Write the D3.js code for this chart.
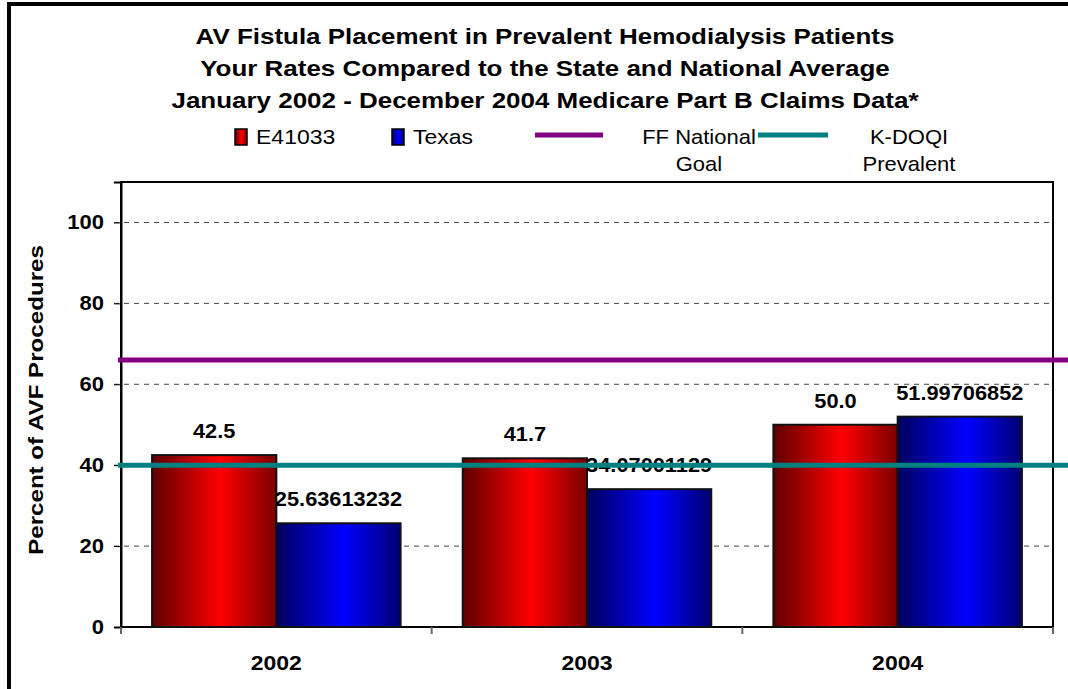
<!DOCTYPE html>
<html>
<head>
<meta charset="utf-8">
<script src="https://cdn.jsdelivr.net/npm/d3@7"></script>
<style>
  body { margin: 0; background: #fff; }
  svg { display: block; font-family: "Liberation Sans", Arial, sans-serif; }
</style>
</head>
<body>
<svg id="chart" width="1068" height="689"></svg>
<script>
const years = ["2002", "2003", "2004"];
const seriesNames = ["E41033", "Texas"];
const e41033 = [42.5, 41.7, 50.0];
const texas = [25.63613232, 34.07001129, 51.99706852];
const ffGoal = 66;
const kdoqiPrevalent = 40;
const yTicks = [0, 20, 40, 60, 80, 100];
const titleLines = [
  "AV Fistula Placement in Prevalent Hemodialysis Patients",
  "Your Rates Compared to the State and National Average",
  "January 2002 - December 2004 Medicare Part B Claims Data*"
];

const svg = d3.select("#chart");
const width = +svg.attr("width");

const plotL = 121, plotR = 1053, plotT = 182, plotB = 627;

const x = d3.scaleBand().domain(years).range([plotL, plotR]).padding(0);
const xSub = d3.scaleBand().domain(seriesNames).range([0, x.bandwidth()]).paddingInner(0).paddingOuter(0.25);
const y = d3.scaleLinear().domain([0, 110]).range([plotB, plotT]);

// the original's text is set wider than Liberation Sans, so stretch it a bit
function stretch(sel, sx) {
  sel.each(function () {
    const t = d3.select(this);
    const tx = +t.attr("x") || 0, ty = +t.attr("y") || 0;
    t.attr("x", 0).attr("y", 0)
      .attr("transform", `translate(${tx},${ty}) scale(${sx},1)`);
  });
}

// gradients
const defs = svg.append("defs");
function grad(id, dark1, bright, dark2) {
  const g = defs.append("linearGradient").attr("id", id)
    .attr("x1", "0%").attr("x2", "100%").attr("y1", "0%").attr("y2", "0%");
  g.append("stop").attr("offset", "0%").attr("stop-color", dark1);
  g.append("stop").attr("offset", "55%").attr("stop-color", bright);
  g.append("stop").attr("offset", "100%").attr("stop-color", dark2);
}
grad("gRed", "#5e0000", "#ff0000", "#7a0000");
grad("gBlue", "#00005e", "#0000ff", "#000070");
const fills = { E41033: "url(#gRed)", Texas: "url(#gBlue)" };

// outer frame
svg.append("rect")
  .attr("x", 9).attr("y", 4).attr("width", 1100).attr("height", 720)
  .attr("fill", "none").attr("stroke", "#000").attr("stroke-width", 4);

// title
svg.append("g").selectAll("text")
  .data(titleLines)
  .enter().append("text")
  .attr("x", 545)
  .attr("y", (d, i) => 44 + i * 32)
  .attr("text-anchor", "middle")
  .attr("font-size", 22)
  .attr("font-weight", "bold")
  .text(d => d)
  .call(stretch, 1.18);

// plot area frame
svg.append("rect")
  .attr("x", plotL).attr("y", plotT)
  .attr("width", plotR - plotL).attr("height", plotB - plotT)
  .attr("fill", "#fff").attr("stroke", "#000").attr("stroke-width", 2);

// grid lines
svg.append("g").selectAll("line")
  .data(yTicks.filter(d => d > 0))
  .enter().append("line")
  .attr("x1", plotL - 7).attr("x2", plotR)
  .attr("y1", d => y(d)).attr("y2", d => y(d))
  .attr("stroke", "#444").attr("stroke-width", 1)
  .attr("stroke-dasharray", "5,5");

// y axis
const yAxis = svg.append("g")
  .attr("transform", `translate(${plotL},0)`)
  .call(d3.axisLeft(y).tickValues(yTicks).tickSize(7).tickPadding(10));
yAxis.select(".domain").attr("stroke", "#000").attr("stroke-width", 2);
yAxis.selectAll(".tick line").attr("stroke", "#000");
yAxis.selectAll(".tick text")
  .attr("font-size", 20).attr("font-weight", "bold")
  .attr("font-family", "Liberation Sans, Arial, sans-serif").attr("fill", "#000")
  .call(stretch, 1.1);

// x axis
const xAxis = svg.append("g")
  .attr("transform", `translate(0,${plotB})`)
  .call(d3.axisBottom(x).tickSize(0).tickPadding(28));
xAxis.select(".domain").remove();
xAxis.selectAll(".tick text")
  .attr("font-size", 20).attr("font-weight", "bold")
  .attr("font-family", "Liberation Sans, Arial, sans-serif").attr("fill", "#000")
  .attr("dy", null).attr("y", 43)
  .call(stretch, 1.15);
svg.append("g").selectAll("line")
  .data(d3.range(years.length + 1))
  .enter().append("line")
  .attr("x1", i => plotL + i * x.step()).attr("x2", i => plotL + i * x.step())
  .attr("y1", plotB).attr("y2", plotB + 7)
  .attr("stroke", "#666").attr("stroke-width", 2);

// bars
const rows = years.map((yr, i) => ({ year: yr, E41033: e41033[i], Texas: texas[i] }));
const groups = svg.append("g").selectAll("g")
  .data(rows)
  .enter().append("g")
  .attr("transform", d => `translate(${x(d.year)},0)`);

groups.selectAll("rect")
  .data(d => seriesNames.map(s => ({ key: s, value: d[s] })))
  .enter().append("rect")
  .attr("x", d => xSub(d.key))
  .attr("y", d => y(d.value))
  .attr("width", xSub.bandwidth())
  .attr("height", d => plotB - y(d.value))
  .attr("fill", d => fills[d.key])
  .attr("stroke", "#111").attr("stroke-width", 2);

groups.selectAll("text")
  .data(d => seriesNames.map(s => ({ key: s, value: d[s] })))
  .enter().append("text")
  .attr("x", d => xSub(d.key) + xSub.bandwidth() / 2)
  .attr("y", d => y(d.value) - 17)
  .attr("text-anchor", "middle")
  .attr("font-size", 20).attr("font-weight", "bold")
  .text(d => d.key === "E41033" ? d.value.toFixed(1) : String(d.value))
  .call(stretch, 1.09);

// reference lines
const refLines = [
  { value: ffGoal, color: "#800080" },
  { value: kdoqiPrevalent, color: "#008080" }
];
svg.append("g").selectAll("line")
  .data(refLines)
  .enter().append("line")
  .attr("x1", plotL - 3).attr("x2", width)
  .attr("y1", d => y(d.value)).attr("y2", d => y(d.value))
  .attr("stroke", d => d.color).attr("stroke-width", 5);

// legend
const legend = svg.append("g").attr("font-size", 20);
const boxes = [
  { name: "E41033", x: 235, fill: "url(#gRed)" },
  { name: "Texas", x: 392, fill: "url(#gBlue)" }
];
boxes.forEach(b => {
  legend.append("rect")
    .attr("x", b.x).attr("y", 129).attr("width", 12).attr("height", 16)
    .attr("fill", b.fill).attr("stroke", "#000").attr("stroke-width", 1.5);
  legend.append("text")
    .attr("x", b.x + 21).attr("y", 144).text(b.name)
    .call(stretch, 1.15);
});
const legLines = [
  { lines: ["FF National", "Goal"], x1: 535, x2: 603, tx: 699, color: "#800080" },
  { lines: ["K-DOQI", "Prevalent"], x1: 758, x2: 828, tx: 909, color: "#008080" }
];
legLines.forEach(l => {
  legend.append("line")
    .attr("x1", l.x1).attr("x2", l.x2).attr("y1", 135).attr("y2", 135)
    .attr("stroke", l.color).attr("stroke-width", 5);
  legend.selectAll(null)
    .data(l.lines)
    .enter().append("text")
    .attr("x", l.tx)
    .attr("y", (d, i) => 144 + i * 27)
    .attr("text-anchor", "middle")
    .text(d => d)
    .call(stretch, 1.1);
});

// y axis title
svg.append("text")
  .attr("transform", "translate(43,400) rotate(-90) scale(1.15,1)")
  .attr("text-anchor", "middle")
  .attr("font-size", 21).attr("font-weight", "bold")
  .text("Percent of AVF Procedures");
</script>
</body>
</html>
